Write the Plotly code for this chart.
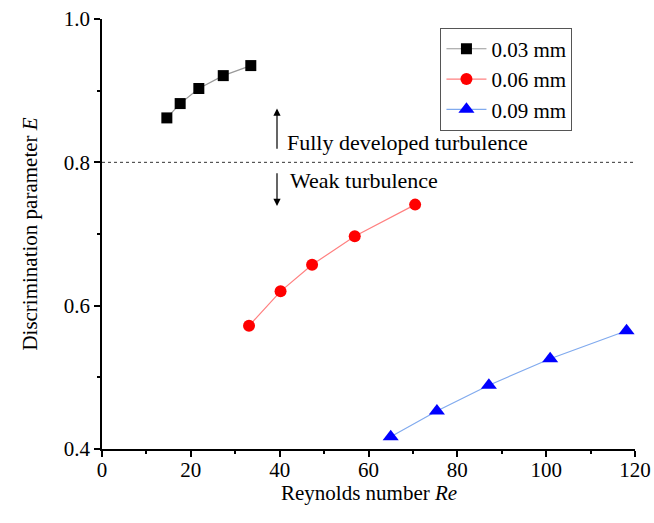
import plotly.graph_objects as go

series_names = ["0.03 mm", "0.06 mm", "0.09 mm"]
re_003 = [14.6, 17.6, 21.8, 27.3, 33.5]
e_003 = [0.862, 0.882, 0.903, 0.921, 0.935]
re_006 = [33.1, 40.2, 47.3, 56.9, 70.5]
e_006 = [0.572, 0.620, 0.657, 0.697, 0.741]
re_009 = [65.0, 75.4, 87.1, 100.9, 118.1]
e_009 = [0.417, 0.453, 0.489, 0.526, 0.565]
threshold = 0.8

FONT = "Liberation Serif, Times New Roman, serif"

fig = go.Figure()
styles = [
    (re_003, e_003, "#000000", "#999999", "square", 11),
    (re_006, e_006, "#ff0000", "#ff8080", "circle", 12),
    (re_009, e_009, "#0000ff", "#80aaee", "triangle-up", 14),
]
for name, (xs, ys, mc, lc, sym, sz) in zip(series_names, styles):
    fig.add_trace(go.Scatter(
        x=xs, y=ys, name=name, mode="lines+markers",
        line=dict(color=lc, width=1.2),
        marker=dict(color=mc, symbol=sym, size=sz, line=dict(width=0)),
    ))

fig.add_shape(type="line", xref="x", yref="y", x0=0, x1=120, y0=threshold, y1=threshold,
              line=dict(color="#333333", width=1, dash="dot"))

# arrows
fig.add_annotation(x=39.4, y=0.875, ax=39.4, ay=0.817, xref="x", yref="y", axref="x", ayref="y",
                   text="", showarrow=True, arrowhead=2, arrowsize=1.2, arrowwidth=1.2, arrowcolor="black")
fig.add_annotation(x=39.4, y=0.739, ax=39.4, ay=0.787, xref="x", yref="y", axref="x", ayref="y",
                   text="", showarrow=True, arrowhead=2, arrowsize=1.2, arrowwidth=1.2, arrowcolor="black")
fig.add_annotation(x=41.3, y=0.828, xref="x", yref="y", text="Fully developed turbulence",
                   showarrow=False, xanchor="left", yanchor="middle",
                   font=dict(family=FONT, size=22, color="black"))
fig.add_annotation(x=41.8, y=0.775, xref="x", yref="y", text="Weak turbulence",
                   showarrow=False, xanchor="left", yanchor="middle",
                   font=dict(family=FONT, size=22, color="black"))
# x-axis title
fig.add_annotation(x=0.5, y=-0.102, xref="paper", yref="paper", text="Reynolds number <i>Re</i>",
                   showarrow=False, xanchor="center", yanchor="middle",
                   font=dict(family=FONT, size=21, color="black"))

axis_common = dict(
    showgrid=False, zeroline=False, showline=True, linecolor="black", linewidth=1.5,
    ticks="outside", ticklen=6, tickwidth=1.5, tickcolor="black", automargin=False,
    tickfont=dict(family=FONT, size=21, color="black"), mirror=False,
    ticklabeloverflow="allow",
)
fig.update_xaxes(range=[0, 120], tick0=0, dtick=20, ticklabelstandoff=-5,
                 minor=dict(ticks="outside", ticklen=3, tickwidth=1.5, tickcolor="black", dtick=10),
                 **axis_common)
fig.update_yaxes(range=[0.4, 1.0], tick0=0.4, dtick=0.2, tickformat=".1f",
                 minor=dict(ticks="outside", ticklen=3, tickwidth=1.5, tickcolor="black", dtick=0.1),
                 title=dict(text="Discrimination parameter <i>E</i>", font=dict(family=FONT, size=21, color="black"), standoff=20),
                 **axis_common)

fig.update_layout(
    width=654, height=523,
    margin=dict(l=102, r=19, t=19, b=74, autoexpand=False),
    plot_bgcolor="white", paper_bgcolor="white",
    legend=dict(x=0.635, y=0.98, xanchor="left", yanchor="top",
                bordercolor="#555555", borderwidth=1, bgcolor="white",
                font=dict(family=FONT, size=21, color="black"),
                itemwidth=40, tracegroupgap=0),
    showlegend=True,
)

fig.write_html("out.html", config={"displayModeBar": False},
               post_script="document.body.style.margin='0';document.body.style.overflow='hidden';")
